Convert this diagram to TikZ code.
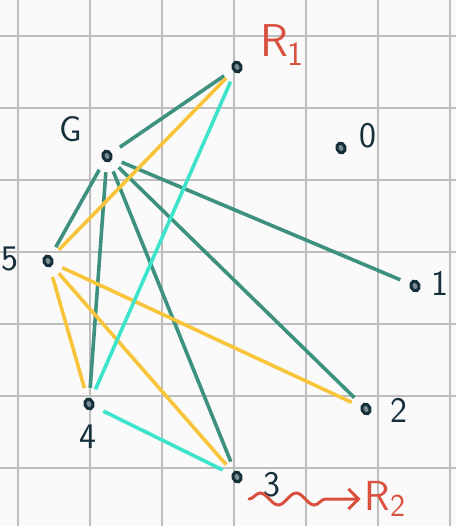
\documentclass[tikz,border=0pt]{standalone}
\usepackage{tikz}
\usetikzlibrary{arrows.meta,positioning,decorations.pathmorphing,shapes.geometric}
\definecolor{ink}{HTML}{15303B}
\definecolor{tealline}{HTML}{3F917F}
\definecolor{yellowline}{HTML}{F8C43A}
\definecolor{cyanline}{HTML}{3EE3CC}
\definecolor{redink}{HTML}{D9503E}
\definecolor{gridgray}{HTML}{BDBDBD}

\begin{document}
\begin{tikzpicture}[
  x=1pt, y=-1pt,
  vertex/.style={ellipse, rotate=20, draw=ink, fill=ink!55, line width=3pt, inner sep=0pt,
    minimum width=8pt, minimum height=10pt},
  lbl/.style={text=ink, font=\sffamily\fontsize{36}{36}\selectfont, inner sep=0pt},
  rlbl/.style={text=redink, font=\sffamily\fontsize{46}{46}\selectfont, inner sep=0pt},
  edge/.style={line width=3.6pt, shorten >=10pt, shorten <=10pt},
]
  \useasboundingbox[fill=black!2] (0,0) rectangle (456,526);
  \foreach \k in {0,...,6} {
    \draw[gridgray, line width=2pt] (18+72*\k,0) -- (18+72*\k,526);
    \draw[gridgray, line width=2pt] (0,36+72*\k) -- (456,36+72*\k);
  }

  % vertices
  \node[vertex] (r1) at (237,67) {};
  \node[vertex] (g) at (107,156) {};
  \node[vertex] (n0) at (341,148) {};
  \node[vertex] (n5) at (48,261) {};
  \node[vertex] (n1) at (415,286) {};
  \node[vertex] (n4) at (89,404) {};
  \node[vertex] (n2) at (366,409) {};
  \node[vertex] (n3) at (237,477) {};

  % labels
  \node[rlbl] (r1l) at (282,45) {R\raisebox{-9pt}{\fontsize{34}{34}\selectfont 1}};
  \node[lbl] (gl) at (71,129) {G};
  \node[lbl] (n0l) at (368,136) {0};
  \node[lbl] (n5l) at (10,259) {5};
  \node[lbl] (n1l) at (440,283) {1};
  \node[lbl] (n4l) at (88,437) {4};
  \node[lbl] (n2l) at (399,410) {2};
  \node[lbl] (n3l) at (272,485) {3};
  \node[rlbl, font=\sffamily\fontsize{42}{42}\selectfont] (r2l) at (385,499)
    {R\raisebox{-6pt}{\fontsize{32}{32}\selectfont 2}};

  % edges
  \foreach \a/\b in {g/r1, g/n5, g/n4, g/n3, g/n2, g/n1}
    \draw[edge, tealline] (\a) -- (\b);
  \foreach \a/\b in {r1/n5, n5/n4, n5/n3, n5/n2}
    \draw[edge, yellowline] (\a) -- (\b);
  \foreach \a/\b in {r1/n4, n4/n3}
    \draw[edge, cyanline] (\a) -- (\b);

  % wavy arrow to R2
  \coordinate (wstart) at (249,499);
  \draw[redink, line width=3pt, line cap=round, -{Straight Barb[length=10pt,width=20pt]},
    decoration={snake, amplitude=6pt, segment length=36pt, post length=18pt}, decorate]
    (wstart) -- ([xshift=-4pt]r2l.west);
\end{tikzpicture}
\end{document}
